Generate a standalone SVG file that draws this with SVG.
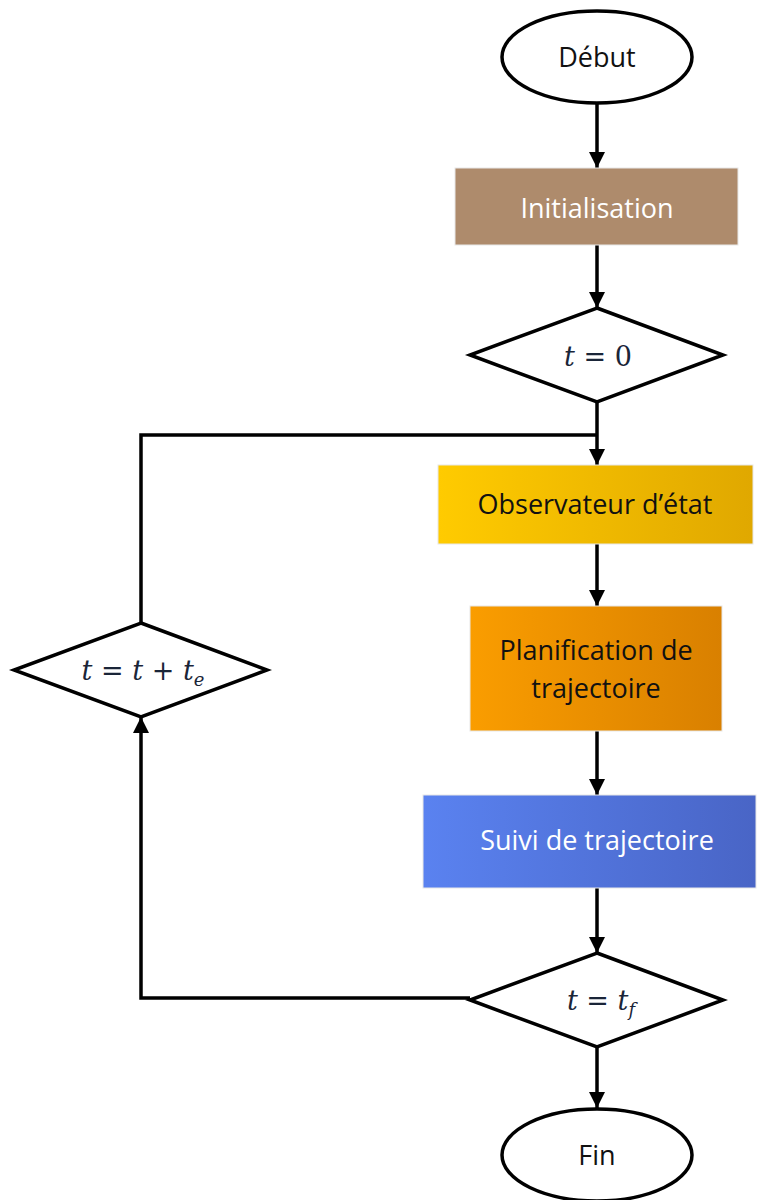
<svg xmlns="http://www.w3.org/2000/svg" width="757" height="1200" viewBox="0 0 757 1200">
<defs>
<linearGradient id="gObs" x1="0" x2="1" y1="0" y2="0"><stop offset="0" stop-color="#FFCB00"/><stop offset="1" stop-color="#E0A800"/></linearGradient>
<linearGradient id="gPlan" x1="0" x2="1" y1="0" y2="0"><stop offset="0" stop-color="#FA9D00"/><stop offset="1" stop-color="#D98000"/></linearGradient>
<linearGradient id="gSuivi" x1="0" x2="1" y1="0" y2="0"><stop offset="0" stop-color="#5A82F0"/><stop offset="1" stop-color="#4965C6"/></linearGradient>
<marker id="arr" viewBox="0 0 10 10" refX="10" refY="5" markerWidth="4.6" markerHeight="5" orient="auto" markerUnits="strokeWidth"><path d="M0,0 L10,5 L0,10 z" fill="#000"/></marker>
</defs>
<style>
.shape{fill:#fff;stroke:#000;stroke-width:3.5}
.box{stroke:#e8e8e8;stroke-width:1}
.lbl{font-family:"Open Sans","Liberation Sans",sans-serif;font-size:27px;text-anchor:middle}
.math{font-family:"DejaVu Serif","Liberation Serif",serif;font-size:27px;text-anchor:middle;fill:#1a2538}
.conn{fill:none;stroke:#000;stroke-width:3.5}
</style>
<rect width="757" height="1200" fill="#fff"/>
<g id="connectors">
<path class="conn" d="M597,103 V168" marker-end="url(#arr)"/>
<path class="conn" d="M597,245 V308" marker-end="url(#arr)"/>
<path class="conn" d="M597,402 V465" marker-end="url(#arr)"/>
<path class="conn" d="M141,623 V435 H597"/>
<path class="conn" d="M597,544 V606" marker-end="url(#arr)"/>
<path class="conn" d="M597,731 V795" marker-end="url(#arr)"/>
<path class="conn" d="M597,888 V953" marker-end="url(#arr)"/>
<path class="conn" d="M597,1047 V1108" marker-end="url(#arr)"/>
<path class="conn" d="M470,998 H141 V717" marker-end="url(#arr)"/>
</g>
<g id="debut">
<ellipse class="shape" cx="597" cy="57" rx="95" ry="46"/>
<text class="lbl" x="597" y="67" fill="#111">Début</text>
</g>
<g id="init">
<rect class="box" x="455" y="168" width="283" height="77" fill="#AE8B6C"/>
<text class="lbl" x="597" y="218" fill="#fff">Initialisation</text>
</g>
<g id="t0">
<polygon class="shape" points="597,308 723,355 597,402 470,355"/>
<text class="math" x="598" y="366"><tspan font-style="italic">t</tspan> = 0</text>
</g>
<g id="obs">
<rect class="box" x="438" y="465" width="315" height="79" fill="url(#gObs)"/>
<text class="lbl" x="595" y="514" fill="#111">Observateur d’état</text>
</g>
<g id="plan">
<rect class="box" x="470" y="606" width="252" height="125" fill="url(#gPlan)"/>
<text class="lbl" x="596" y="660" fill="#111">Planification de</text>
<text class="lbl" x="596" y="698" fill="#111">trajectoire</text>
</g>
<g id="suivi">
<rect class="box" x="423" y="795" width="333" height="93" fill="url(#gSuivi)"/>
<text class="lbl" x="597" y="850" fill="#fff">Suivi de trajectoire</text>
</g>
<g id="tf">
<polygon class="shape" points="597,953 723,1000 597,1047 470,1000"/>
<text class="math" x="601" y="1010"><tspan font-style="italic">t</tspan> = <tspan font-style="italic">t</tspan><tspan font-style="italic" font-size="18" dy="6">f</tspan></text>
</g>
<g id="tinc">
<polygon class="shape" points="141,623 267,670 141,717 14,670"/>
<text class="math" x="143" y="680"><tspan font-style="italic">t</tspan> = <tspan font-style="italic">t</tspan> + <tspan font-style="italic">t</tspan><tspan font-style="italic" font-size="18" dy="6">e</tspan></text>
</g>
<g id="fin">
<ellipse class="shape" cx="597" cy="1155" rx="95" ry="46"/>
<text class="lbl" x="597" y="1165" fill="#111">Fin</text>
</g>
</svg>
